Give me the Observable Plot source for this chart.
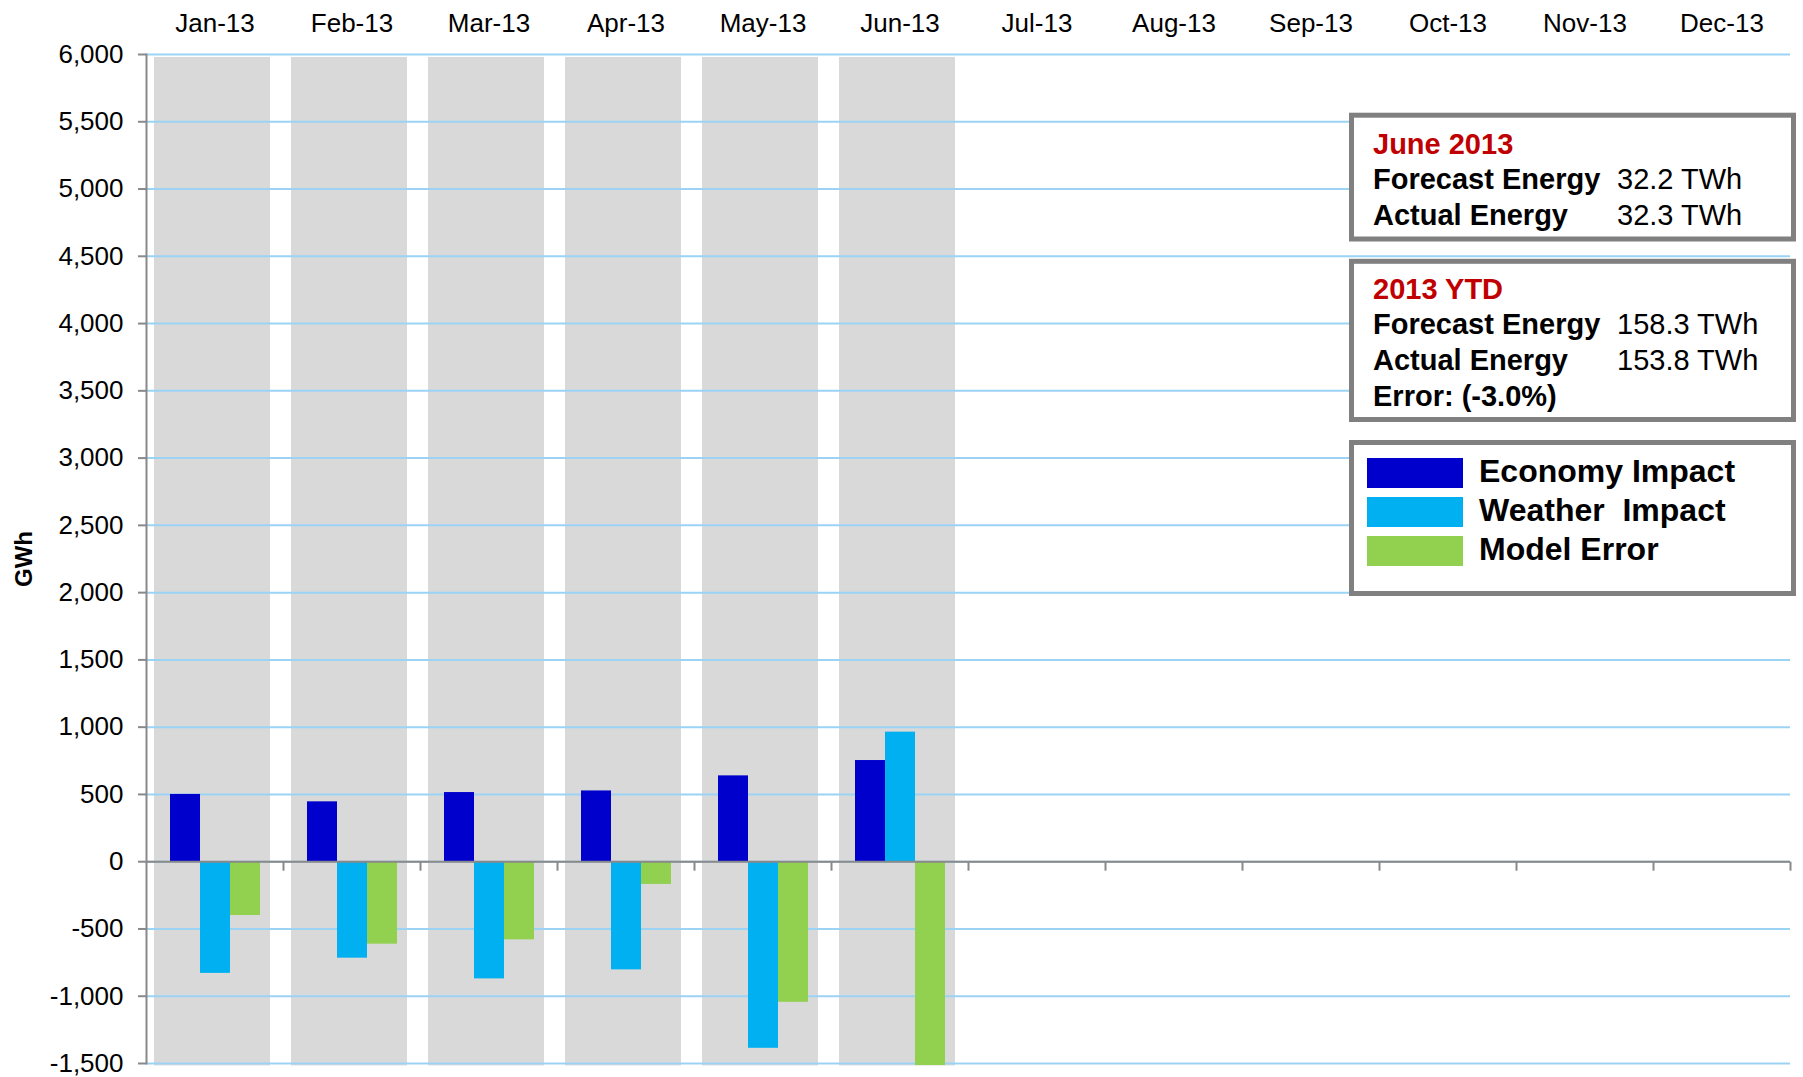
<!DOCTYPE html>
<html><head><meta charset="utf-8">
<script src="https://cdn.jsdelivr.net/npm/d3@7"></script>
<script src="https://cdn.jsdelivr.net/npm/@observablehq/plot@0.6"></script>
<style>
body{margin:0;background:#fff;}
#chart{position:relative;width:1803px;height:1077px;}
svg text{font-family:"Liberation Sans", Arial, sans-serif;}
g[aria-label="y-axis label"] text{font-weight:bold;font-size:24px;}
</style></head><body><div id="chart"></div>
<script>
// ---- data ----
const months = ["Jan-13","Feb-13","Mar-13","Apr-13","May-13","Jun-13","Jul-13","Aug-13","Sep-13","Oct-13","Nov-13","Dec-13"];
const reportedMonths = ["Jan-13","Feb-13","Mar-13","Apr-13","May-13","Jun-13"];
const series = ["Economy Impact","Weather  Impact","Model Error"];
const economyImpact = [500, 445, 514, 526, 638, 752];
const weatherImpact = [-830, -717, -871, -804, -1387, 963];
const modelError = [-400, -613, -581, -169, -1045, -1515];
const seriesColors = ["#0000CC", "#00B0F0", "#92D050"];
const bandExtent = [-1518, 5978];
const yTicks = [-1500,-1000,-500,0,500,1000,1500,2000,2500,3000,3500,4000,4500,5000,5500,6000];
const juneTitle = "June 2013";
const juneLabels = ["Forecast Energy","Actual Energy"];
const juneValues = ["32.2 TWh","32.3 TWh"];
const ytdTitle = "2013 YTD";
const ytdLabels = ["Forecast Energy","Actual Energy","Error: (-3.0%)"];
const ytdValues = ["158.3 TWh","153.8 TWh",""];

const table = reportedMonths.flatMap((m, i) => [
  {month: m, series: series[0], value: economyImpact[i]},
  {month: m, series: series[1], value: weatherImpact[i]},
  {month: m, series: series[2], value: modelError[i]}
]);

const AXIS = "#898989";
const tickDown = {draw(ctx){ ctx.moveTo(0,0); ctx.lineTo(0,9); }};

const plot = Plot.plot({
  width: 1803, height: 1077,
  marginLeft: 145, marginRight: 13, marginTop: 54, marginBottom: 14,
  style: {fontFamily: '"Liberation Sans", Arial, sans-serif', fontSize: "26px", color: "#000", background: "#fff"},
  fx: {domain: months, padding: 0, label: null},
  x: {domain: series, paddingInner: 0, paddingOuter: 0.746, axis: null},
  y: {domain: [-1500, 6000], label: null},
  color: {domain: series, range: seriesColors},
  marks: [
    Plot.barY(reportedMonths, {fx: d => d, y1: () => bandExtent[0], y2: () => bandExtent[1], fill: "#D9D9D9", insetLeft: 8, insetRight: 13}),
    Plot.gridY(yTicks, {stroke: "#9BD3F5", strokeOpacity: 1, strokeWidth: 2}),
    Plot.barY(table, {fx: "month", x: "series", y: "value", fill: "series"}),
    Plot.ruleY([0], {stroke: AXIS, strokeWidth: 2}),
    Plot.dot(months.slice(1), {fx: d => d, y: () => 0, frameAnchor: "left", symbol: tickDown, stroke: AXIS, strokeWidth: 2, fill: "none"}),
    Plot.dot(months.slice(-1), {fx: d => d, y: () => 0, frameAnchor: "right", symbol: tickDown, stroke: AXIS, strokeWidth: 2, fill: "none"}),
    Plot.frame({anchor: "left", facetAnchor: "left", stroke: AXIS, strokeWidth: 2}),
    Plot.axisY({ticks: yTicks, tickFormat: d => d.toLocaleString("en-US"), tickSize: 8, tickPadding: 15, stroke: AXIS, strokeWidth: 2, fontSize: 26, label: "GWh", labelArrow: "none", labelAnchor: "center", labelOffset: 132}),
    Plot.axisFx({anchor: "top", tickSize: 0, tickPadding: 23, label: null, fontSize: 26})
  ]
});
document.getElementById("chart").appendChild(plot);

// ---- info boxes & legend (overlay inside the plot area) ----
const svg = d3.select(plot);
const color = plot.scale("color");
const g = svg.append("g").attr("font-family", '"Liberation Sans", Arial, sans-serif').attr("text-anchor", "start");
function box(y, h) {
  g.append("rect").attr("x", 1351.5).attr("y", y).attr("width", 442).attr("height", h)
    .attr("fill", "#fff").attr("stroke", "#808080").attr("stroke-width", 5);
}
function line(x, y, txt, opts = {}) {
  g.append("text").attr("x", x).attr("y", y).attr("font-size", opts.size || 29)
    .attr("font-weight", opts.weight || "bold").attr("fill", opts.fill || "#000")
    .attr("text-anchor", "start").style("white-space", "pre").text(txt);
}
box(115.2, 123.8);
line(1373, 153.5, juneTitle, {fill: "#C00000"});
juneLabels.forEach((t, i) => { line(1373, 189 + 35.8 * i, t); line(1617, 189 + 35.8 * i, juneValues[i], {weight: "normal"}); });

box(261.3, 158.2);
line(1373, 298.5, ytdTitle, {fill: "#C00000"});
ytdLabels.forEach((t, i) => { line(1373, 334 + 35.8 * i, t); if (ytdValues[i]) line(1617, 334 + 35.8 * i, ytdValues[i], {weight: "normal"}); });

box(442.5, 151);
const swY = [458, 497, 536];
series.forEach((s, i) => {
  g.append("rect").attr("x", 1367).attr("y", swY[i]).attr("width", 96).attr("height", 30).attr("fill", color.apply(s));
  line(1479, swY[i] + 24, s, {size: 32});
});
</script></body></html>
